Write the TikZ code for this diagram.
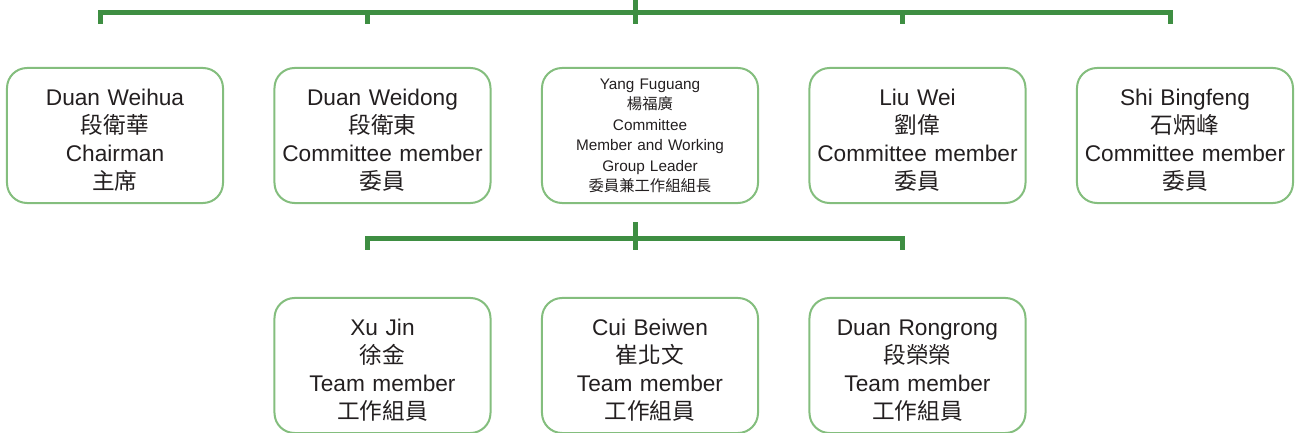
\documentclass[tikz,border=0pt]{standalone}
\usepackage{fontspec}
\setmainfont{Liberation Sans}
\newfontfamily\cjk{Noto Sans CJK TC}
\usepackage{xcolor}
\usetikzlibrary{matrix,positioning}
\definecolor{busgreen}{RGB}{62,142,66}
\definecolor{boxgreen}{RGB}{132,190,126}
\definecolor{txtgrey}{RGB}{35,31,32}

\begin{document}
\begin{tikzpicture}[bus/.style={draw=busgreen, line width=3.75pt}]
\useasboundingbox (0,0) rectangle (971.25pt,324pt);
\matrix (M) [matrix of nodes, matrix anchor=north west, inner sep=0pt, outer sep=0pt,
nodes={draw=boxgreen, line width=1.5pt, rounded corners=15pt, text=txtgrey, text width=156pt, inner xsep=3pt, align=center, minimum height=101.25pt, outer sep=0, anchor=center, text height=19.5pt, font=\fontsize{17pt}{20.8pt}\selectfont},
column sep=37.125pt, row sep=69.75pt,
small/.style={text height=8.4pt, font=\fontsize{11.5pt}{15.3pt}\selectfont}
] at (4.5pt,273.75pt)
{
	{Duan Weihua\\{\cjk 段衛華}\\Chairman\\{\cjk 主席}} &
	{Duan Weidong\\{\cjk 段衛東}\\Committee member\\{\cjk 委員}} &
	|[small]| {Yang Fuguang\\{\cjk 楊福廣}\\Committee\\Member and Working\\Group Leader\\{\cjk 委員兼工作組組長}} &
	{Liu Wei\\{\cjk 劉偉}\\Committee member\\{\cjk 委員}} &
	{Shi Bingfeng\\{\cjk 石炳峰}\\Committee member\\{\cjk 委員}} \\
	&
	{Xu Jin\\{\cjk 徐金}\\Team member\\{\cjk 工作組員}} &
	{Cui Beiwen\\{\cjk 崔北文}\\Team member\\{\cjk 工作組員}} &
	{Duan Rongrong\\{\cjk 段榮榮}\\Team member\\{\cjk 工作組員}} &
	\\
};
\foreach \i in {1,...,5} \path (M-1-\i.north) ++(-11.25pt,33pt) coordinate (t\i);
\foreach \i in {2,3,4} \path (M-2-\i.north) ++(-11.25pt,36pt) coordinate (s\i);
\draw[bus] (t1) -- ++(0,8.25pt) -| (t5);
\foreach \i in {2,4} \draw[bus] (t\i) -- ++(0,8.25pt);
\draw[bus] (t3) -- ++(0,18pt);
\draw[bus] (s2) -- ++(0,8.25pt) -| (s4);
\draw[bus] (s3) -- ++(0,21pt);
\end{tikzpicture}
\end{document}
